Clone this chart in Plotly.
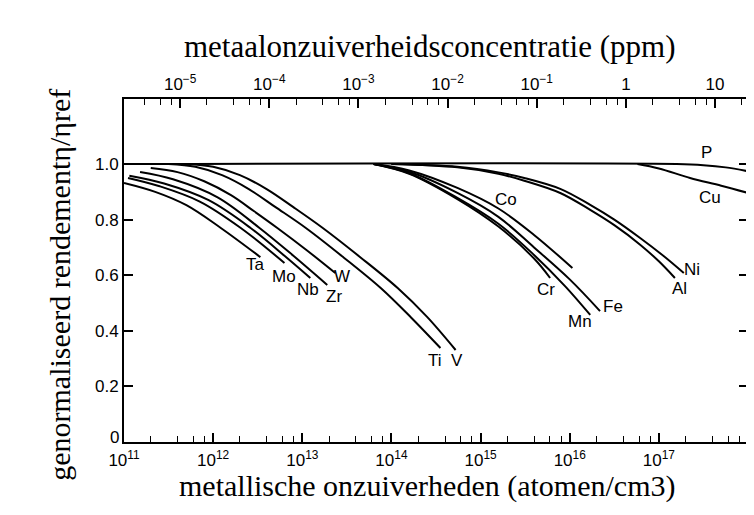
import plotly.graph_objects as go

# ---- data (log10 of concentration in atoms/cm3, normalised efficiency) ----
ta_logn = [11.0, 11.35, 11.7, 12.086, 12.53]
ta_eta = [0.932, 0.90, 0.852, 0.77, 0.665]
mo_logn = [11.045, 11.4, 11.85, 12.31, 12.80]
mo_eta = [0.95, 0.92, 0.865, 0.77, 0.644]
nb_logn = [11.06, 11.45, 11.95, 12.42, 12.8, 13.09]
nb_eta = [0.958, 0.93, 0.87, 0.77, 0.67, 0.59]
zr_logn = [11.18, 11.55, 12.05, 12.52, 12.9, 13.28]
zr_eta = [0.971, 0.945, 0.88, 0.77, 0.67, 0.565]
w_logn = [11.3, 11.6, 11.9, 12.2, 12.46, 12.72, 13.05, 13.37]
w_eta = [0.986, 0.971, 0.938, 0.888, 0.83, 0.77, 0.69, 0.608]
ti_logn = [11.5, 11.8, 12.1, 12.4, 12.7, 13.04, 13.46, 13.88, 14.22, 14.55]
ti_eta = [1.0, 0.99, 0.96, 0.91, 0.845, 0.77, 0.665, 0.554, 0.448, 0.338]
v_logn = [11.7, 12.0, 12.3, 12.6, 12.9, 13.23, 13.65, 14.07, 14.4, 14.72]
v_eta = [1.0, 0.99, 0.96, 0.91, 0.845, 0.77, 0.665, 0.554, 0.45, 0.331]
co_logn = [13.8, 14.2, 14.74, 15.2, 15.6, 16.03]
co_eta = [1.0, 0.977, 0.914, 0.84, 0.745, 0.626]
cr_logn = [13.8, 14.2, 14.74, 15.2, 15.6, 15.78]
cr_eta = [1.0, 0.965, 0.874, 0.775, 0.66, 0.59]
mn_logn = [13.8, 14.2, 14.74, 15.2, 15.6, 15.95, 16.23]
mn_eta = [1.0, 0.967, 0.878, 0.785, 0.673, 0.56, 0.457]
fe_logn = [13.8, 14.2, 14.74, 15.2, 15.6, 16.0, 16.34]
fe_eta = [1.0, 0.972, 0.896, 0.81, 0.70, 0.585, 0.471]
ni_logn = [14.0, 14.74, 15.2, 15.49, 15.9, 16.23, 16.5, 16.79, 17.05, 17.28]
ni_eta = [1.0, 0.99, 0.97, 0.95, 0.91, 0.853, 0.80, 0.734, 0.67, 0.608]
al_logn = [14.0, 14.74, 15.2, 15.49, 15.9, 16.23, 16.5, 16.79, 17.0, 17.18]
al_eta = [1.0, 0.988, 0.965, 0.94, 0.895, 0.835, 0.78, 0.71, 0.65, 0.59]
p_logn = [11.0, 17.2, 17.5, 17.75, 18.0]
p_eta = [1.0, 1.0, 0.996, 0.988, 0.974]
cu_logn = [16.76, 17.0, 17.35, 17.7, 18.0]
cu_eta = [1.0, 0.984, 0.95, 0.922, 0.896]

# label positions (log10 N, eta)
label_names = ["Ta", "Mo", "Nb", "Zr", "W", "Ti", "V", "Co", "Cr", "Fe", "Mn", "Ni", "Al", "P", "Cu"]
label_logn = [12.48, 12.79, 13.06, 13.36, 13.45, 14.49, 14.74, 15.28, 15.73, 16.48, 16.12, 17.37, 17.23, 17.54, 17.57]
label_eta = [0.637, 0.597, 0.547, 0.525, 0.597, 0.295, 0.295, 0.871, 0.547, 0.489, 0.435, 0.619, 0.554, 1.04, 0.878]

# axis ticks
x_major_exp = [11, 12, 13, 14, 15, 16, 17, 18]
y_ticks = [0, 0.2, 0.4, 0.6, 0.8, 1.0]
y_ticktext = ["", "0.2", "0.4", "0.6", "0.8", "1.0"]  # "0" is placed separately below
y_zero_label = "0"
ppm_major_exp = [-5, -4, -3, -2, -1, 0, 1]
ppm_ticktext = ["10<sup>\u22125</sup>", "10<sup>\u22124</sup>", "10<sup>\u22123</sup>",
                "10<sup>\u22122</sup>", "10<sup>\u22121</sup>", "1", "10"]
PPM_OFFSET = 16.63  # log10(atoms/cm3 per ppm)

series = [
    (ta_logn, ta_eta), (mo_logn, mo_eta), (nb_logn, nb_eta), (zr_logn, zr_eta),
    (w_logn, w_eta), (ti_logn, ti_eta), (v_logn, v_eta), (co_logn, co_eta),
    (cr_logn, cr_eta), (mn_logn, mn_eta), (fe_logn, fe_eta), (ni_logn, ni_eta),
    (al_logn, al_eta), (p_logn, p_eta), (cu_logn, cu_eta),
]

SANS = "Liberation Sans Narrow, Liberation Sans, Arial, sans-serif"
TICKFONT = dict(family=SANS, size=17, color="black")
SERIF = "Liberation Serif, Times New Roman, serif"

fig = go.Figure()
for lx, ly in series:
    fig.add_trace(go.Scatter(
        x=[10 ** v for v in lx], y=ly, mode="lines",
        line=dict(color="black", width=2, shape="spline", smoothing=1.0),
        showlegend=False, hoverinfo="skip"))

# invisible helper so the top (ppm) axis is drawn
fig.add_trace(go.Scatter(
    x=[10 ** (11 - PPM_OFFSET), 10 ** (18 - PPM_OFFSET)], y=[None, None],
    xaxis="x2", mode="lines", showlegend=False, hoverinfo="skip", opacity=0))

minor_x = [m * 10 ** e for e in range(11, 18) for m in (2, 4, 6, 8)]
minor_ppm = [m * 10.0 ** e for e in range(-6, 2) for m in (2, 4, 6, 8)]

fig.update_layout(
    width=754, height=515,
    margin=dict(l=116, r=12, t=91, b=81),
    paper_bgcolor="white", plot_bgcolor="white",
    xaxis=dict(
        type="log", range=[11, 18],
        tickvals=[10 ** e for e in x_major_exp],
        ticktext=["10<sup>%d</sup>" % e for e in x_major_exp],
        ticks="inside", ticklen=9, tickwidth=1.5, tickcolor="black",
        ticklabelstandoff=2,
        showline=True, linewidth=1.8, linecolor="black", mirror=False,
        showgrid=False, zeroline=False, tickfont=TICKFONT,
        minor=dict(tickvals=minor_x, ticks="inside", ticklen=6, tickwidth=1.2,
                   tickcolor="black", showgrid=False),
    ),
    xaxis2=dict(
        type="log", overlaying="x", side="top",
        range=[11 - PPM_OFFSET, 18 - PPM_OFFSET],
        tickvals=[10.0 ** e for e in ppm_major_exp], ticktext=ppm_ticktext,
        ticks="inside", ticklen=9, tickwidth=1.5, tickcolor="black",
        showline=True, linewidth=1.8, linecolor="black",
        showgrid=False, zeroline=False, tickfont=TICKFONT,
        minor=dict(tickvals=minor_ppm, ticks="inside", ticklen=6, tickwidth=1.2,
                   tickcolor="black", showgrid=False),
    ),
    yaxis=dict(
        range=[0, 1.234], tickvals=y_ticks, ticktext=y_ticktext,
        ticks="inside", ticklen=9, tickwidth=1.5, tickcolor="black",
        showline=True, linewidth=1.8, linecolor="black", mirror="ticks",
        showgrid=False, zeroline=False, tickfont=TICKFONT,
    ),
)

for name, lx, ly in zip(label_names, label_logn, label_eta):
    fig.add_annotation(x=lx, y=ly, xref="x", yref="y", text=name, showarrow=False,
                       font=dict(family=SANS, size=17, color="black"))

# the "0" of the y axis, nudged up so it sits beside 10^11
fig.add_annotation(x=0, y=y_ticks[0], xref="paper", yref="y", text=y_zero_label,
                   showarrow=False, xanchor="right", yanchor="middle",
                   xshift=-3, yshift=5, font=TICKFONT)

plot_w = 754 - 116 - 12
plot_h = 515 - 91 - 81


def px_to_paper(px, py):
    return (px - 116) / plot_w, (515 - py - 81) / plot_h


tx, ty = px_to_paper(422, 19)
fig.add_annotation(x=tx, y=ty, xref="paper", yref="paper",
                   text="metaalonzuiverheidsconcentratie (ppm)", showarrow=False,
                   font=dict(family=SERIF, size=31, color="black"))
bx, by = px_to_paper(420, 497)
fig.add_annotation(x=bx, y=by, xref="paper", yref="paper",
                   text="metallische onzuiverheden (atomen/cm3)", showarrow=False,
                   font=dict(family=SERIF, size=30, color="black"))
lx_, ly_ = px_to_paper(32, 277)
fig.add_annotation(x=lx_, y=ly_, xref="paper", yref="paper",
                   text="genormaliseerd rendement\u03b7/\u03b7ref", showarrow=False,
                   textangle=-90, font=dict(family=SERIF, size=30, color="black"))

fig.write_html("out.html")
